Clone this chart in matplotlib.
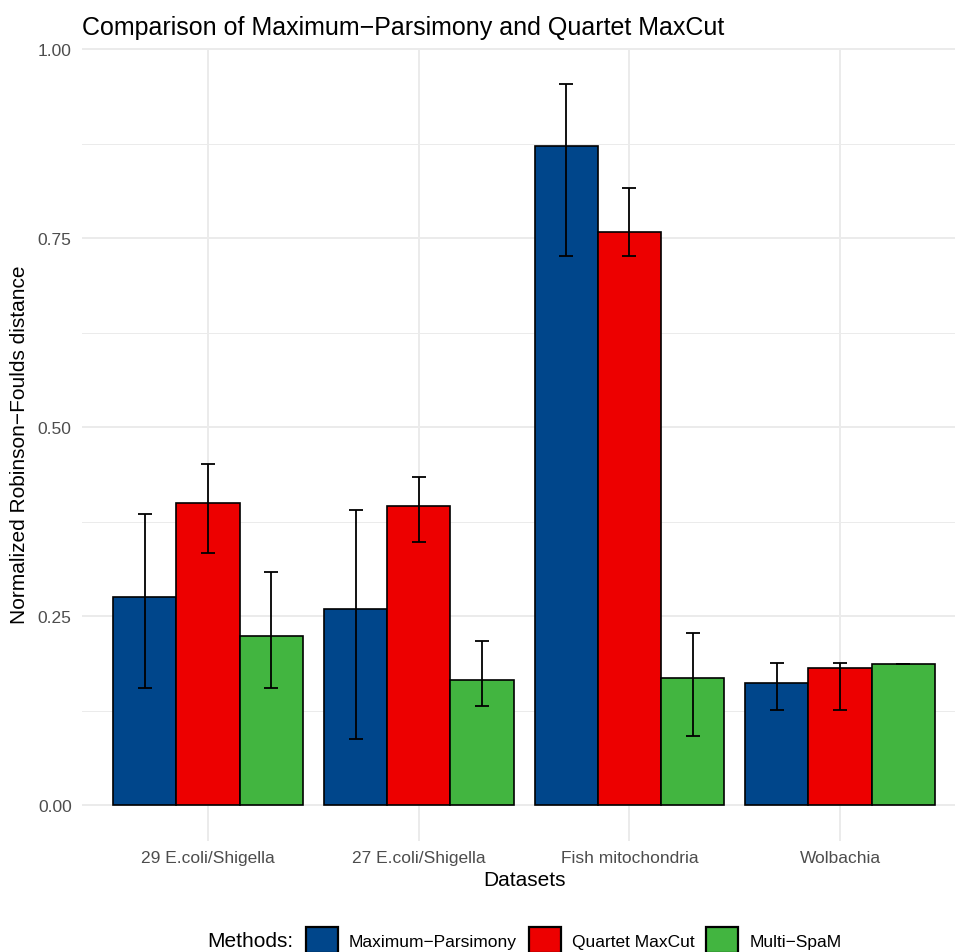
import matplotlib
matplotlib.use("Agg")
import matplotlib.pyplot as plt
from matplotlib.patches import Patch
import numpy as np

# data
datasets = ["29 E.coli/Shigella", "27 E.coli/Shigella", "Fish mitochondria", "Wolbachia"]
methods = ["Maximum\u2212Parsimony", "Quartet MaxCut", "Multi\u2212SpaM"]

mp_mean = [0.275, 0.259, 0.872, 0.162]
mp_lo = [0.155, 0.087, 0.726, 0.126]
mp_hi = [0.385, 0.391, 0.954, 0.188]

qmc_mean = [0.400, 0.396, 0.758, 0.181]
qmc_lo = [0.333, 0.348, 0.726, 0.126]
qmc_hi = [0.451, 0.434, 0.817, 0.188]

msp_mean = [0.223, 0.166, 0.168, 0.187]
msp_lo = [0.155, 0.131, 0.091, 0.187]
msp_hi = [0.308, 0.217, 0.228, 0.187]

colors = ["#00468B", "#ED0000", "#42B540"]

plt.rcParams['font.family'] = ['Liberation Sans', 'DejaVu Sans']

fig = plt.figure(figsize=(9.55, 9.53), dpi=100)
ax = fig.add_axes([0.0855, 0.1165, 0.9265, 0.8319])

x = np.arange(1, len(datasets) + 1)
width = 0.3
series = [(mp_mean, mp_lo, mp_hi), (qmc_mean, qmc_lo, qmc_hi), (msp_mean, msp_lo, msp_hi)]

for i, (mean, lo, hi) in enumerate(series):
    pos = x + (i - 1) * width
    mean = np.array(mean)
    ax.bar(pos, mean, width=width, color=colors[i], edgecolor="black",
           linewidth=1.2, zorder=3)
    err = [mean - np.array(lo), np.array(hi) - mean]
    ax.errorbar(pos, mean, yerr=err, fmt="none", ecolor="black",
                elinewidth=1.3, capsize=4.8, capthick=1.3, zorder=4)

# ggplot-like look
ax.set_xlim(0.4, 4.6)
ax.set_ylim(-0.0477, 1.0017)
ax.set_xticks(x)
ax.set_xticklabels(datasets)
ax.set_yticks([0, 0.25, 0.5, 0.75, 1.0])
ax.set_yticklabels(["0.00", "0.25", "0.50", "0.75", "1.00"])
ax.set_yticks([0.125, 0.375, 0.625, 0.875], minor=True)
ax.grid(True, which="major", color="#EBEBEB", linewidth=1.4, zorder=0)
ax.grid(True, which="minor", axis="y", color="#EBEBEB", linewidth=0.7, zorder=0)
ax.tick_params(axis="both", which="both", length=0, labelsize=12.5, labelcolor="#4D4D4D")
ax.tick_params(axis="x", pad=6.5)
ax.tick_params(axis="y", pad=7.2)
for s in ax.spines.values():
    s.set_visible(False)
ax.set_axisbelow(True)

fig.text(82 / 955, 1 - 28 / 953, "Comparison of Maximum\u2212Parsimony and Quartet MaxCut",
         fontsize=18, ha="left", va="center")
fig.text(20 / 955, 1 - 445 / 953, "Normalized Robinson\u2212Foulds distance",
         fontsize=15, rotation=90, ha="center", va="center")
fig.text(524 / 955, 1 - 881 / 953, "Datasets", fontsize=15, ha="center", va="center")

# legend at the bottom
fig.text(207 / 955, 1 - 942 / 953, "Methods:", fontsize=15, ha="left", va="center")
handles = [Patch(facecolor=c, edgecolor="black", linewidth=1.6) for c in colors]
fig.legend(handles, methods, loc="center left", bbox_to_anchor=(306 / 955, 1 - 941 / 953),
           ncol=3, frameon=False, fontsize=12.5, borderpad=0, borderaxespad=0,
           handlelength=1.84, handleheight=1.84, handletextpad=0.63, columnspacing=0.69)

fig.savefig("out.png", dpi=100)
